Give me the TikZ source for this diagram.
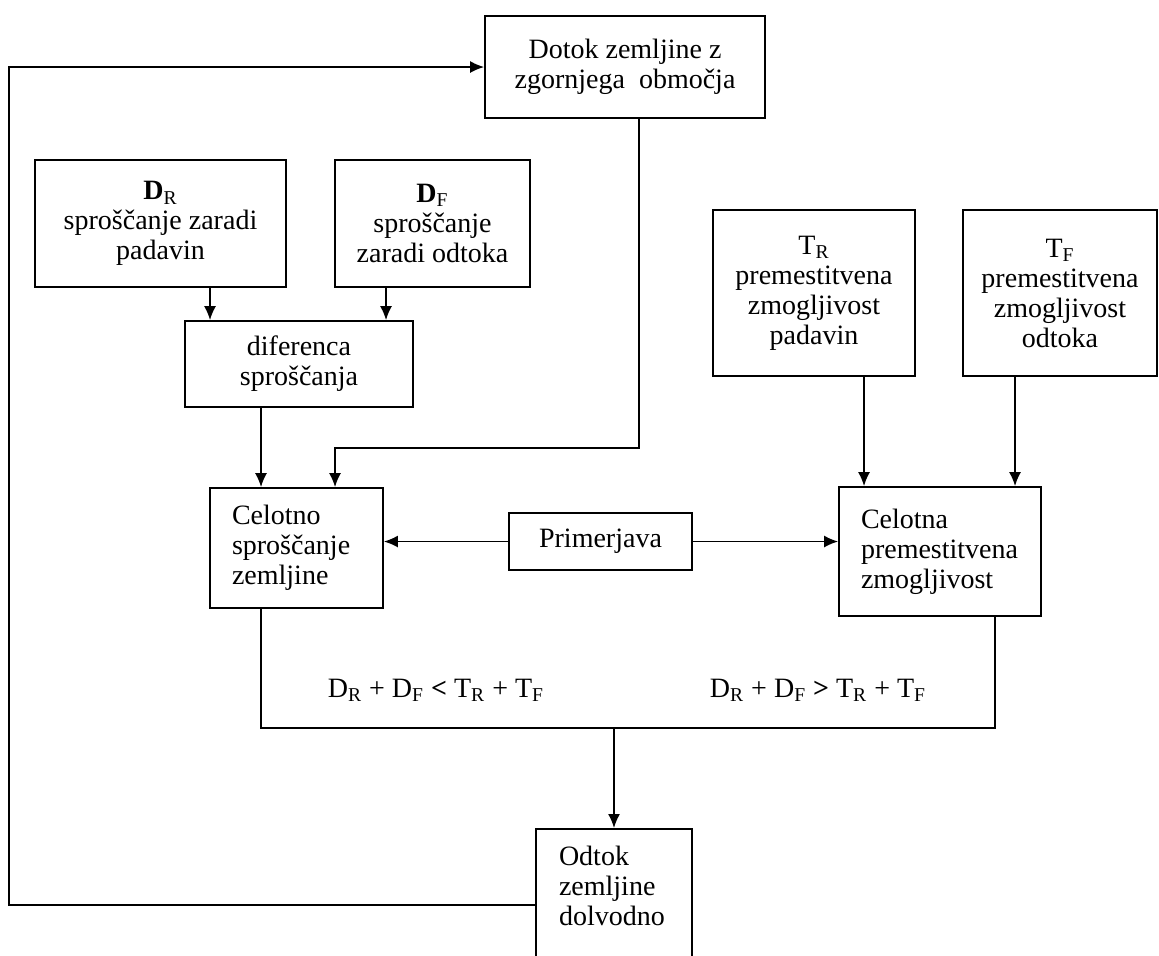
\documentclass[tikz,border=0pt]{standalone}
\usepackage{fontspec}
\setmainfont{Liberation Serif}
\usetikzlibrary{arrows.meta, positioning}
\tikzstyle{blok} =[draw, line width=0.9pt, align=center, inner sep=0pt]
\tikzstyle{levo} =[draw, line width=0.9pt, align=left, inner ysep=0pt]
\tikzstyle{vez} =[line width=0.8pt]
\tikzstyle{pus} =[vez, -{Latex[length=7pt,width=6pt]}]
\begin{document}
\begin{tikzpicture}[x=0.5pt, y=-0.5pt, font=\fontsize{14}{15}\selectfont]
	\useasboundingbox (0,0) rectangle (1159,955);
	\clip (0,0) rectangle (1159,955);
	\node[blok, minimum width=140pt, minimum height=51pt] (dotok) at (625,67) {Dotok zemljine z\\zgornjega\ \ območja};
	\node[blok, minimum width=125.5pt, minimum height=63.5pt] (dr) at (160.5,223.5) {\textbf{D}\textsubscript{R}\\sproščanje zaradi\\padavin};
	\node[blok, minimum width=97.5pt, minimum height=63.5pt] (df) at (432.5,223.5) {\textbf{D}\textsubscript{F}\\sproščanje\\zaradi odtoka};
	\node[blok, minimum width=114pt, minimum height=43pt] (dif) at (299,364) {diferenca\\sproščanja};
	\node[levo, inner xsep=11pt, text width=64.5pt, minimum height=60pt] (sprosc) at (296.5,548) {Celotno\\sproščanje\\zemljine};
	\node[blok, minimum width=91.5pt, minimum height=28.5pt] (prim) at (600.5,541.5) {Primerjava};
	\node[levo, inner xsep=11pt, text width=79pt, minimum height=64.5pt] (zmog) at (940,551.5) {Celotna\\premestitvena\\zmogljivost};
	\node[blok, minimum width=101pt, minimum height=83pt] (tr) at (814,293) {T\textsubscript{R}\\premestitvena\\zmogljivost\\padavin};
	\node[blok, minimum width=97pt, minimum height=83pt] (tf) at (1060,293) {T\textsubscript{F}\\premestitvena\\zmogljivost\\odtoka};
	\node[draw, line width=0.9pt, anchor=north, inner xsep=11.5pt, inner ysep=8.8pt] (odtok) at (614,828) {\parbox[c][56pt][t]{55pt}{\raggedright Odtok\\zemljine\\dolvodno}};
	\node (manjse) at (436,690) {D\textsubscript{R} + D\textsubscript{F} \textbf{<} T\textsubscript{R} + T\textsubscript{F}};
	\node (vecje) at (818,690) {D\textsubscript{R} + D\textsubscript{F} \textbf{>} T\textsubscript{R} + T\textsubscript{F}};
	\coordinate (zdruzi) at (614,728);
	\draw[pus] ([xshift=24.75pt]dr.south) coordinate (p) -- (p |- dif.north);
	\draw[pus] ([xshift=-23.25pt]df.south) coordinate (p) -- (p |- dif.north);
	\draw[pus] ([xshift=-19pt]dif.south) coordinate (p) -- (p |- sprosc.north);
	\draw[pus] ([xshift=7pt]dotok.south) -- ++(0,329) -| ([xshift=19.25pt]sprosc.north);
	\draw[pus] ([xshift=25pt]tr.south) coordinate (p) -- (p |- zmog.north);
	\draw[pus] ([xshift=-22.5pt]tf.south) coordinate (p) -- (p |- zmog.north);
	\draw[pus] (prim.west) -- (prim.west -| sprosc.east);
	\draw[pus] (prim.east) -- (prim.east -| zmog.west);
	\draw[vez] ([xshift=-17.75pt]sprosc.south) |- (zdruzi) -| ([xshift=27.5pt]zmog.south);
	\draw[pus] (zdruzi) -- (odtok.north);
	\draw[pus] (odtok.west |- 0,905) -- ++(-526,0) |- (dotok.west);
\end{tikzpicture}
\end{document}
